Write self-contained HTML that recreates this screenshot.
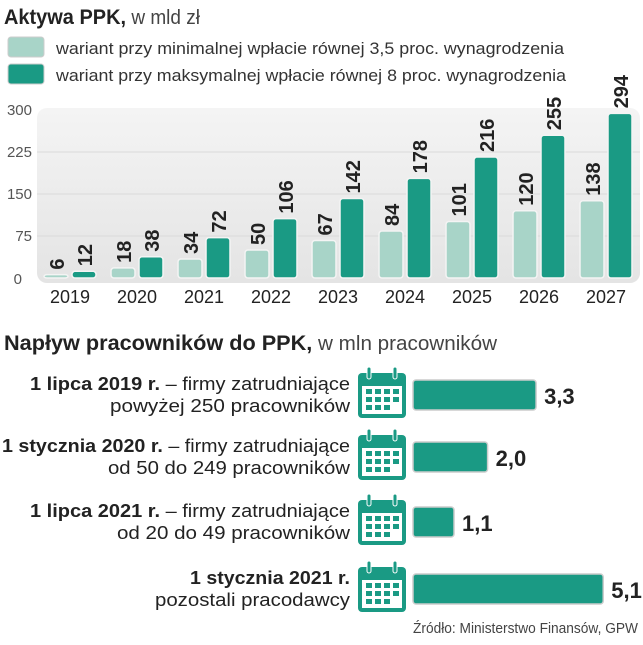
<!DOCTYPE html><html><head><meta charset="utf-8"><style>
body{margin:0;width:643px;height:640px;background:#fff;overflow:hidden}
svg text{font-family:"Liberation Sans",sans-serif}
</style></head><body>
<svg width="643" height="640" xmlns="http://www.w3.org/2000/svg">
<defs>
<linearGradient id="bg" x1="0" y1="0" x2="0" y2="1"><stop offset="0" stop-color="#f4f4f4"/><stop offset="1" stop-color="#e4e4e4"/></linearGradient>
<symbol id="cal" viewBox="0 0 52 52">
<rect x="2" y="6" width="48" height="45" rx="4" fill="#1a9a84"/>
<rect x="6" y="19" width="40" height="28" fill="#fff"/>
<rect x="11" y="0" width="4" height="12" rx="2" fill="#1a9a84" stroke="#fff" stroke-width="1"/>
<rect x="37" y="0" width="4" height="12" rx="2" fill="#1a9a84" stroke="#fff" stroke-width="1"/>
<g fill="#1a9a84">
<rect x="10" y="22" width="6" height="5"/><rect x="19" y="22" width="6" height="5"/><rect x="28" y="22" width="6" height="5"/><rect x="37" y="22" width="6" height="5"/>
<rect x="10" y="30" width="6" height="5"/><rect x="19" y="30" width="6" height="5"/><rect x="28" y="30" width="6" height="5"/><rect x="37" y="30" width="6" height="5"/>
<rect x="10" y="38" width="6" height="5"/><rect x="19" y="38" width="6" height="5"/><rect x="28" y="38" width="6" height="5"/>
</g></symbol>
</defs>
<text x="4" y="24" font-size="21" font-weight="bold" fill="#222" textLength="196" lengthAdjust="spacingAndGlyphs">Aktywa PPK,<tspan font-weight="normal" font-size="20" fill="#444"> w mld zł</tspan></text>
<rect x="8" y="37" width="36" height="20" rx="3" fill="#a8d4c8" stroke="#ccc"/>
<text x="56" y="54" font-size="17" fill="#333" textLength="508" lengthAdjust="spacingAndGlyphs">wariant przy minimalnej wpłacie równej 3,5 proc. wynagrodzenia</text>
<rect x="8" y="64" width="36" height="20" rx="3" fill="#1a9a84" stroke="#ccc"/>
<text x="56" y="81" font-size="17" fill="#333" textLength="510" lengthAdjust="spacingAndGlyphs">wariant przy maksymalnej wpłacie równej 8 proc. wynagrodzenia</text>
<rect x="37" y="108" width="603" height="175" rx="10" fill="url(#bg)"/>
<g stroke="#dadada"><line x1="37" y1="152" x2="640" y2="152"/><line x1="37" y1="194" x2="640" y2="194"/><line x1="37" y1="236" x2="640" y2="236"/></g>
<g font-size="15" fill="#555" text-anchor="end">
<text x="32" y="115">300</text><text x="32" y="157">225</text><text x="32" y="199">150</text><text x="32" y="241">75</text><text x="22" y="284">0</text></g>
<g id="bars"></g>
<text x="638" y="633" font-size="15" fill="#444" text-anchor="end" textLength="225" lengthAdjust="spacingAndGlyphs">Źródło: Ministerstwo Finansów, GPW</text>
<text x="4" y="350" font-size="21" font-weight="bold" fill="#222" textLength="493" lengthAdjust="spacingAndGlyphs">Napływ pracowników do PPK,<tspan font-weight="normal" font-size="20" fill="#444"> w mln pracowników</tspan></text>
<g id="rows"></g>
</svg>
<script>
var ns="http://www.w3.org/2000/svg";
function el(p,t,a,tx){var e=document.createElementNS(ns,t);for(var k in a)e.setAttribute(k,a[k]);if(tx!=null)e.textContent=tx;p.appendChild(e);return e;}
var g=document.getElementById('bars');
var L=[6,18,34,50,67,84,101,120,138],D=[12,38,72,106,142,178,216,255,294];
for(var i=0;i<9;i++){
 var x=44+67*i;
 [[L[i],x,'#a8d4c8'],[D[i],x+28,'#1a9a84']].forEach(function(b){
  var h=Math.max(b[0]*0.56,3),y=278-h;
  el(g,'rect',{x:b[1],y:y,width:24,height:h,rx:3,fill:b[2],stroke:'#f4f4f4','stroke-width':1.5});
  var tx=b[1]+20,ty=y-5;
  el(g,'text',{x:tx,y:ty,'font-size':20,'font-weight':'bold',fill:'#222',transform:'rotate(-90 '+tx+' '+ty+')'},b[0]);
 });
 el(g,'text',{x:x+26,y:303,'font-size':18,fill:'#222','text-anchor':'middle'},2019+i);
}
var r=document.getElementById('rows');
var rows=[[395,'1 lipca 2019 r.',' – firmy zatrudniające','powyżej 250 pracowników',3.3,'3,3',320,240],
[457,'1 stycznia 2020 r.',' – firmy zatrudniające','od 50 do 249 pracowników',2.0,'2,0',348,242],
[522,'1 lipca 2021 r.',' – firmy zatrudniające','od 20 do 49 pracowników',1.1,'1,1',320,233],
[589,'1 stycznia 2021 r.','','pozostali pracodawcy',5.1,'5,1',160,195]];
rows.forEach(function(d){
 var c=d[0];
 var t=el(r,'text',{x:350-d[6],y:c-5,'font-size':18,fill:'#222',textLength:d[6],lengthAdjust:'spacingAndGlyphs'});
 el(t,'tspan',{'font-weight':'bold'},d[1]);el(t,'tspan',{},d[2]);
 el(r,'text',{x:350-d[7],y:c+17,'font-size':18,fill:'#222',textLength:d[7],lengthAdjust:'spacingAndGlyphs'},d[3]);
 el(r,'use',{href:'#cal',x:356,y:c-28,width:52,height:52});
 var w=d[4]*37.3;
 el(r,'rect',{x:413,y:c-15,width:w,height:30,rx:3,fill:'#1a9a84',stroke:'#ccc','stroke-width':1.5});
 el(r,'text',{x:413+w+8,y:c+9,'font-size':22,'font-weight':'bold',fill:'#222'},d[5]);
});
</script>
</body></html>
